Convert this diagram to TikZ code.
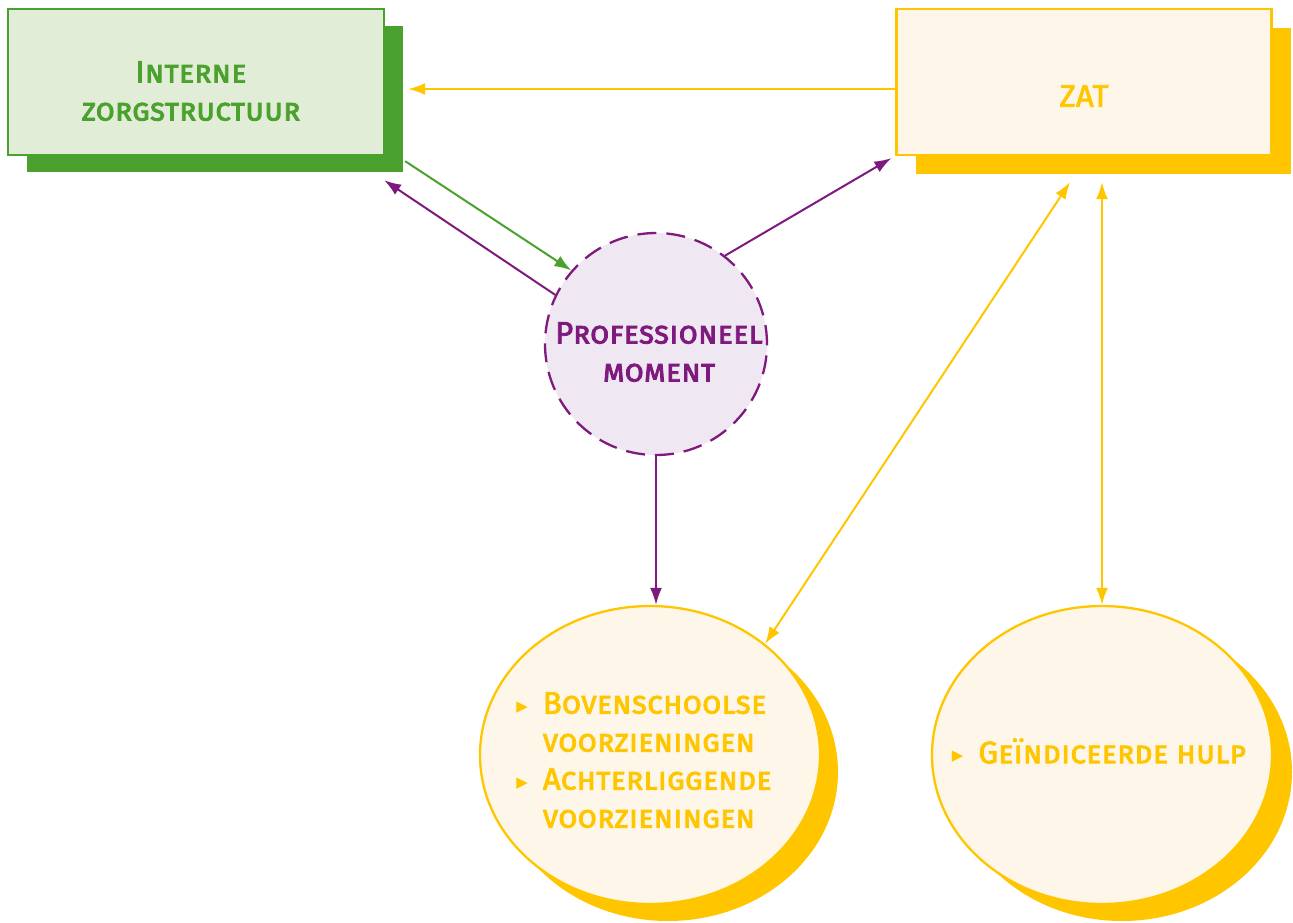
\documentclass[tikz,border=0pt]{standalone}
\usepackage{fontspec}
\setmainfont{Fira Sans}[LetterSpace=0.8,FakeBold=2.6]
\newfontfamily\symfont{DejaVu Sans}
\usetikzlibrary{shapes.geometric,arrows.meta,shadows}

\definecolor{izsgreen}{RGB}{74,161,46}
\definecolor{izsfill}{RGB}{226,237,216}
\definecolor{zatyellow}{RGB}{255,198,0}
\definecolor{zatfill}{RGB}{254,247,233}
\definecolor{pmpurple}{RGB}{126,26,126}
\definecolor{pmfill}{RGB}{239,231,241}

\newcommand{\bul}{\raisebox{2.5pt}{\symfont\fontsize{15}{15}\selectfont ▶}}

\begin{document}
\begin{tikzpicture}[x=1pt,y=-1pt,font=\fontsize{31}{38}\selectfont\scshape,
  line width=2pt,
  tip/.style={-{Latex[length=17pt,width=12pt]}},
  bitip/.style={{Latex[length=17pt,width=12pt]}-{Latex[length=17pt,width=12pt]}},
  lbl/.style={align=center,inner sep=0pt}]
  \useasboundingbox (0,0) rectangle (1293,922);

  \node [draw=izsgreen,fill=izsfill,line width=2.3pt,minimum width=376pt,minimum height=146pt,
    general shadow={fill=izsgreen,shadow xshift=19pt,shadow yshift=-17pt},
    label={[lbl,text=izsgreen,xshift=-5pt,yshift=-9pt]center:Interne\\zorgstructuur}] (izs_box) at (196,82) {};

  \node [draw=zatyellow,fill=zatfill,line width=2.3pt,minimum width=375pt,minimum height=146pt,
    general shadow={fill=zatyellow,shadow xshift=19pt,shadow yshift=-19pt},
    label={[lbl,text=zatyellow,yshift=-14pt]center:ZAT}] (zat_box) at (1084,82) {};

  \node [circle,draw=pmpurple,fill=pmfill,line width=2.3pt,dash pattern=on 19pt off 10pt,minimum size=222pt,inner sep=0pt,
    label={[lbl,text=pmpurple,xshift=3pt,yshift=-8pt]center:Professioneel\\moment}] (pm_circ) at (656,344) {};

  \node [ellipse,draw=zatyellow,fill=zatfill,line width=2.3pt,minimum width=340pt,minimum height=298pt,inner sep=0pt,
    general shadow={fill=zatyellow,shadow xshift=18pt,shadow yshift=-17pt},
    label={[lbl,text=zatyellow,xshift=-6pt,yshift=-8pt]center:{\begin{tabular}{@{}l@{\hspace{15pt}}l@{}}\bul & Bovenschoolse\\ & voorzieningen\\ \bul & Achterliggende\\ & voorzieningen\end{tabular}}}] (bv_ell) at (650,755) {};

  \node [ellipse,draw=zatyellow,fill=zatfill,line width=2.3pt,minimum width=340pt,minimum height=298pt,inner sep=0pt,
    general shadow={fill=zatyellow,shadow xshift=20pt,shadow yshift=-17pt},
    label={[lbl,text=zatyellow,xshift=-3pt,yshift=4pt]center:\bul\hspace{15pt}Geïndiceerde hulp}] (gh_ell) at (1102,755) {};

  \draw [tip,zatyellow] ([yshift=-7pt]zat_box.west) -- ([xshift=23pt,yshift=-7pt]izs_box.east);
  \draw [tip,izsgreen] ([xshift=20pt,yshift=-5pt]izs_box.south east) -- (pm_circ.139);
  \draw [tip,pmpurple] (pm_circ.154) -- ([xshift=-1pt,yshift=-24pt]izs_box.south east);
  \draw [tip,pmpurple] (pm_circ.52) -- ([xshift=-4pt,yshift=-2pt]zat_box.south west);
  \draw [tip,pmpurple] (pm_circ.south) -- (pm_circ.south |- bv_ell.north);
  \draw [bitip,zatyellow] ([xshift=-14pt,yshift=-26pt]zat_box.south) -- (bv_ell.44);
  \draw [bitip,zatyellow] ([yshift=-26pt]zat_box.south -| gh_ell.north) -- (gh_ell.north);
\end{tikzpicture}
\end{document}
